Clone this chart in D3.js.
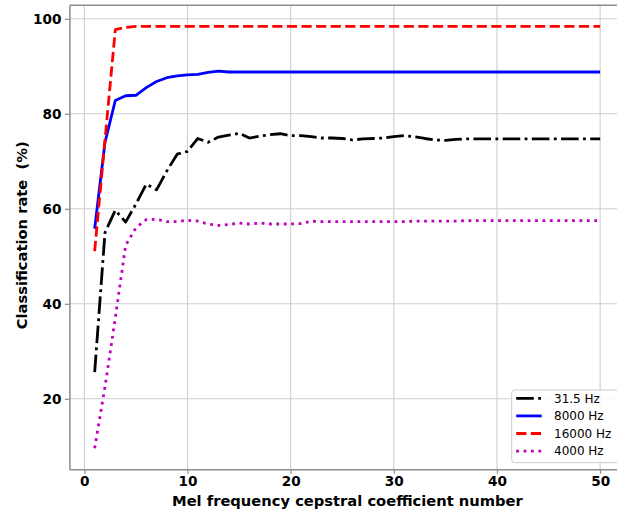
<!DOCTYPE html>
<html>
<head>
<meta charset="utf-8">
<script src="https://cdn.jsdelivr.net/npm/d3@7"></script>
<style>
  body { margin: 0; background: #fff; }
  svg { display: block; font-family: "DejaVu Sans", sans-serif; }
  .tick text { font-size: 13.6px; font-weight: bold; fill: #000; }
  .axis path, .axis line { stroke: #8c8c8c; }
</style>
</head>
<body>
<script>
// coefficient numbers on the x axis
const coeffs = [1, 2, 3, 4, 5, 6, 7, 8, 9, 10, 11, 12, 13, 14, 15, 16, 17, 18, 19, 20,
  21, 22, 23, 24, 25, 26, 27, 28, 29, 30, 31, 32, 33, 34, 35, 36, 37, 38, 39, 40,
  41, 42, 43, 44, 45, 46, 47, 48, 49, 50];

// classification rate (%) per band
const rate31 = [25.6, 55.0, 59.7, 57.2, 61.0, 65.2, 64.0, 68.0, 71.5, 72.1,
  74.8, 74.0, 75.1, 75.5, 75.9, 74.9, 75.3, 75.6, 75.8, 75.4,
  75.4, 75.2, 74.9, 74.9, 74.8, 74.5, 74.7, 74.8, 74.9, 75.2,
  75.4, 75.2, 74.8, 74.5, 74.4, 74.6, 74.7, 74.7, 74.7, 74.7,
  74.7, 74.7, 74.7, 74.7, 74.7, 74.7, 74.7, 74.7, 74.7, 74.7];
const rate8000 = [55.8, 74.0, 82.8, 83.8, 83.9, 85.5, 86.8, 87.6, 88.0, 88.2,
  88.3, 88.7, 89.0, 88.8, 88.8, 88.8, 88.8, 88.8, 88.8, 88.8,
  88.8, 88.8, 88.8, 88.8, 88.8, 88.8, 88.8, 88.8, 88.8, 88.8,
  88.8, 88.8, 88.8, 88.8, 88.8, 88.8, 88.8, 88.8, 88.8, 88.8,
  88.8, 88.8, 88.8, 88.8, 88.8, 88.8, 88.8, 88.8, 88.8, 88.8];
const rate16000 = [51.1, 74.5, 97.7, 98.2, 98.4, 98.4, 98.4, 98.4, 98.4, 98.4,
  98.4, 98.4, 98.4, 98.4, 98.4, 98.4, 98.4, 98.4, 98.4, 98.4,
  98.4, 98.4, 98.4, 98.4, 98.4, 98.4, 98.4, 98.4, 98.4, 98.4,
  98.4, 98.4, 98.4, 98.4, 98.4, 98.4, 98.4, 98.4, 98.4, 98.4,
  98.4, 98.4, 98.4, 98.4, 98.4, 98.4, 98.4, 98.4, 98.4, 98.4];
const rate4000 = [9.6, 22.5, 37.0, 52.3, 56.0, 57.7, 57.8, 57.3, 57.3, 57.6,
  57.4, 56.8, 56.5, 56.7, 57.0, 56.8, 57.0, 56.8, 56.8, 56.8,
  56.9, 57.4, 57.3, 57.3, 57.3, 57.3, 57.3, 57.3, 57.3, 57.3,
  57.3, 57.4, 57.4, 57.4, 57.4, 57.4, 57.5, 57.5, 57.5, 57.5,
  57.5, 57.5, 57.5, 57.5, 57.5, 57.5, 57.5, 57.5, 57.5, 57.5];

const xTicks = [0, 10, 20, 30, 40, 50];
const yTicks = [20, 40, 60, 80, 100];

const series = [
  { label: '31.5 Hz', values: rate31, color: '#000000', dash: '17.6,4.4,2.8,4.4' },
  { label: '8000 Hz', values: rate8000, color: '#0000ff', dash: null },
  { label: '16000 Hz', values: rate16000, color: '#ff0000', dash: '10.2,4.4' },
  { label: '4000 Hz', values: rate4000, color: '#bf00bf', dash: '2.8,4.6' }
];

const width = 617, height = 511;
const margin = { left: 69.4, top: 5.3, right: -8.4, bottom: 41.7 };
const lw = 2.8;

let svg = d3.select('body')
  .append('svg')
  .attr('width', width)
  .attr('height', height);

// matplotlib-like 5% padding around the data
const allY = series.flatMap(s => s.values);
const xExt = d3.extent(coeffs), yExt = d3.extent(allY);
const xPad = (xExt[1] - xExt[0]) * 0.05, yPad = (yExt[1] - yExt[0]) * 0.05;

const x = d3.scaleLinear()
  .domain([xExt[0] - xPad, xExt[1] + xPad])
  .range([margin.left, width - margin.right]);
const y = d3.scaleLinear()
  .domain([yExt[0] - yPad, yExt[1] + yPad])
  .range([height - margin.bottom, margin.top]);

// grid
let grid = svg.append('g').attr('stroke', '#cfcfcf').attr('stroke-width', 1.1);
grid.selectAll('.vg').data(xTicks).enter().append('line')
  .attr('x1', d => x(d)).attr('x2', d => x(d))
  .attr('y1', y.range()[1]).attr('y2', y.range()[0]);
grid.selectAll('.hg').data(yTicks).enter().append('line')
  .attr('y1', d => y(d)).attr('y2', d => y(d))
  .attr('x1', x.range()[0]).attr('x2', x.range()[1]);

// lines
const line = d3.line().x((d, i) => x(coeffs[i])).y(d => y(d));
svg.selectAll('.series').data(series).enter().append('path')
  .attr('fill', 'none')
  .attr('stroke', d => d.color)
  .attr('stroke-width', lw)
  .attr('stroke-dasharray', d => d.dash)
  .attr('stroke-linejoin', 'round')
  .attr('d', d => line(d.values));

// top spine (right spine falls outside the picture)
svg.append('line')
  .attr('x1', x.range()[0]).attr('x2', x.range()[1])
  .attr('y1', y.range()[1]).attr('y2', y.range()[1])
  .attr('stroke', '#8c8c8c').attr('stroke-width', 1.5);

// axes
let xAxis = svg.append('g').attr('class', 'axis')
  .attr('transform', `translate(0, ${y.range()[0]})`)
  .call(d3.axisBottom(x).tickValues(xTicks).tickSize(4.5).tickPadding(3).tickSizeOuter(0));
let yAxis = svg.append('g').attr('class', 'axis')
  .attr('transform', `translate(${x.range()[0]}, 0)`)
  .call(d3.axisLeft(y).tickValues(yTicks).tickSize(4.5).tickPadding(3.5).tickSizeOuter(0));
svg.selectAll('.axis .domain').attr('stroke-width', 1.5);
svg.selectAll('.axis .tick line').attr('stroke-width', 1.2);
svg.selectAll('.axis text').attr('font-family', '"DejaVu Sans", sans-serif');

// axis labels
svg.append('text')
  .attr('text-anchor', 'middle')
  .attr('x', (x.range()[0] + x.range()[1]) / 2)
  .attr('y', 506)
  .attr('font-size', 14.7)
  .attr('font-weight', 'bold')
  .text('Mel frequency cepstral coefficient number');

svg.append('text')
  .attr('text-anchor', 'middle')
  .attr('transform', `translate(27, ${(y.range()[0] + y.range()[1]) / 2 - 2}) rotate(-90)`)
  .attr('font-size', 14.7)
  .attr('font-weight', 'bold')
  .style('white-space', 'pre')
  .text('Classification rate  (%)');

// legend
let legend = svg.append('g').attr('transform', 'translate(511.7, 390)');
legend.append('rect')
  .attr('width', 120).attr('height', 72.7)
  .attr('rx', 3)
  .attr('fill', 'white').attr('fill-opacity', 0.85)
  .attr('stroke', '#cccccc').attr('stroke-width', 1);
let items = legend.selectAll('.item').data(series).enter().append('g')
  .attr('transform', (d, i) => `translate(0, ${8.3 + i * 17.6})`);
items.append('line')
  .attr('x1', 4.5).attr('x2', 30)
  .attr('stroke', d => d.color)
  .attr('stroke-width', lw)
  .attr('stroke-dasharray', d => d.dash);
items.append('text')
  .attr('x', 42.3)
  .attr('dy', '0.35em')
  .attr('font-size', 12)
  .text(d => d.label);
</script>
</body>
</html>
